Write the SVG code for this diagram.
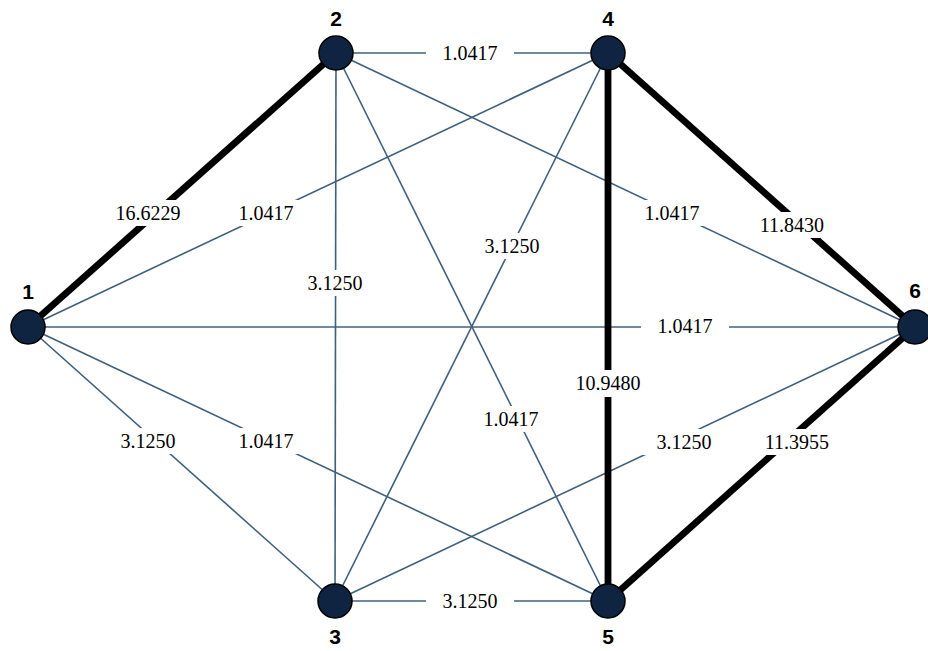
<svg xmlns="http://www.w3.org/2000/svg" width="928" height="651" viewBox="0 0 928 651">
  <style>
    .thin { stroke: #3f607d; stroke-width: 1.6; fill: none; }
    .thick { stroke: #000000; stroke-width: 6.8; fill: none; }
    .node circle { fill: #0f2441; stroke: #000000; stroke-width: 1.5; }
    .node text { font-family: "Liberation Sans", Arial, sans-serif; font-weight: bold; font-size: 21px; fill: #000000; text-anchor: middle; }
    .lbl rect { fill: #ffffff; }
    .lbl text { font-family: "Liberation Serif", "DejaVu Serif", serif; font-size: 20px; fill: #000000; text-anchor: middle; }
  </style>
  <rect width="928" height="651" fill="#ffffff"/>

  <g id="connectors">
    <!-- weak links -->
    <line class="thin" x1="336" y1="53" x2="608" y2="53"/>
    <line class="thin" x1="28" y1="327" x2="608" y2="53"/>
    <line class="thin" x1="336" y1="53" x2="335" y2="601"/>
    <line class="thin" x1="335" y1="601" x2="608" y2="53"/>
    <line class="thin" x1="336" y1="53" x2="915" y2="327"/>
    <line class="thin" x1="28" y1="327" x2="915" y2="327"/>
    <line class="thin" x1="336" y1="53" x2="608" y2="601"/>
    <line class="thin" x1="28" y1="327" x2="335" y2="601"/>
    <line class="thin" x1="28" y1="327" x2="608" y2="601"/>
    <line class="thin" x1="335" y1="601" x2="915" y2="327"/>
    <line class="thin" x1="335" y1="601" x2="608" y2="601"/>
    <!-- strong links -->
    <line class="thick" x1="28" y1="327" x2="336" y2="53"/>
    <line class="thick" x1="608" y1="53" x2="915" y2="327"/>
    <line class="thick" x1="608" y1="53" x2="608" y2="601"/>
    <line class="thick" x1="608" y1="601" x2="915" y2="327"/>
  </g>

  <g id="edge-labels">
    <g class="lbl"><rect x="426" y="40" width="88" height="26"/><text x="470" y="60">1.0417</text></g>
    <g class="lbl"><rect x="109" y="200" width="78" height="26"/><text x="148" y="220">16.6229</text></g>
    <g class="lbl"><rect x="222" y="200" width="88" height="26"/><text x="266" y="220">1.0417</text></g>
    <g class="lbl"><rect x="291" y="270" width="88" height="26"/><text x="335" y="290">3.1250</text></g>
    <g class="lbl"><rect x="468" y="233" width="88" height="26"/><text x="512" y="253">3.1250</text></g>
    <g class="lbl"><rect x="628" y="200" width="88" height="26"/><text x="672" y="220">1.0417</text></g>
    <g class="lbl"><rect x="753" y="212" width="78" height="26"/><text x="792" y="232">11.8430</text></g>
    <g class="lbl"><rect x="641" y="313" width="88" height="26"/><text x="685" y="333">1.0417</text></g>
    <g class="lbl"><rect x="569" y="370" width="78" height="27"/><text x="608" y="390">10.9480</text></g>
    <g class="lbl"><rect x="467" y="406" width="88" height="26"/><text x="511" y="426">1.0417</text></g>
    <g class="lbl"><rect x="104" y="428" width="88" height="26"/><text x="148" y="448">3.1250</text></g>
    <g class="lbl"><rect x="222" y="428" width="88" height="26"/><text x="266" y="448">1.0417</text></g>
    <g class="lbl"><rect x="640" y="429" width="88" height="26"/><text x="684" y="449">3.1250</text></g>
    <g class="lbl"><rect x="758" y="429" width="78" height="26"/><text x="797" y="449">11.3955</text></g>
    <g class="lbl"><rect x="426" y="588" width="88" height="26"/><text x="470" y="608">3.1250</text></g>
  </g>

  <g id="node-1" class="node"><circle cx="28" cy="327" r="17"/><text x="28" y="299">1</text></g>
  <g id="node-2" class="node"><circle cx="336" cy="53" r="17"/><text x="336" y="26">2</text></g>
  <g id="node-3" class="node"><circle cx="335" cy="601" r="17"/><text x="335" y="644">3</text></g>
  <g id="node-4" class="node"><circle cx="608" cy="53" r="17"/><text x="608" y="26">4</text></g>
  <g id="node-5" class="node"><circle cx="608" cy="601" r="17"/><text x="608" y="644">5</text></g>
  <g id="node-6" class="node"><circle cx="915" cy="327" r="17"/><text x="915" y="298">6</text></g>
</svg>
